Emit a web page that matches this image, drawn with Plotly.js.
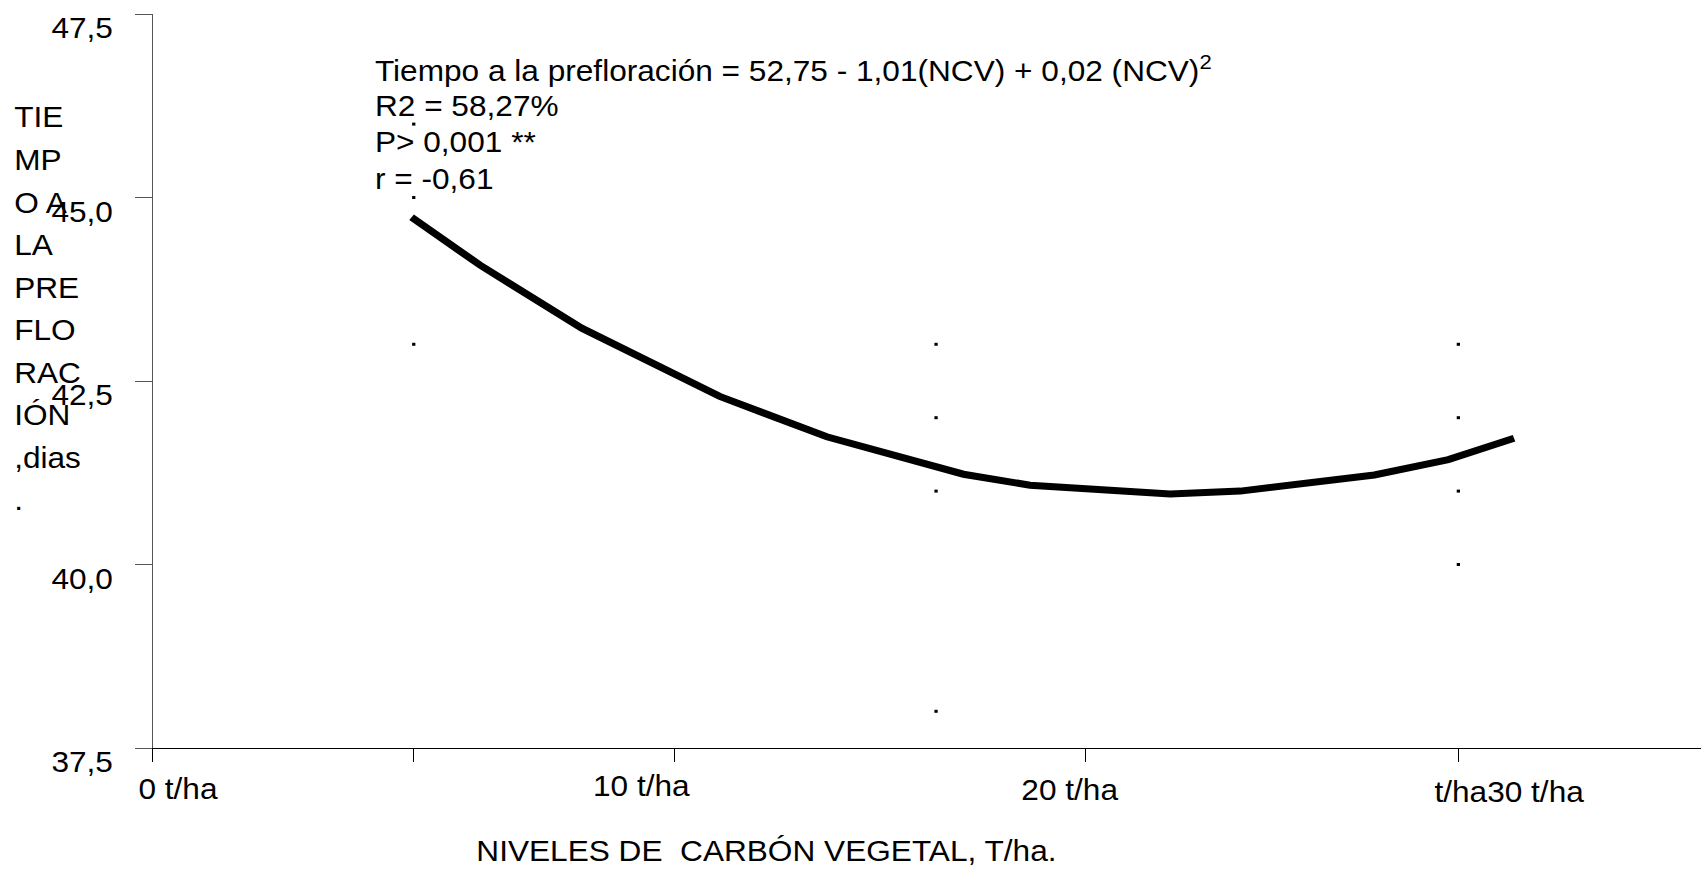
<!DOCTYPE html>
<html>
<head>
<meta charset="utf-8">
<script src="https://cdn.plot.ly/plotly-3.0.1.min.js"></script>
<style>
  html, body { margin: 0; padding: 0; background: #fff; overflow: hidden; }
  #wrap { width: 1701px; height: 869px; overflow: hidden; }
  /* the chart is laid out narrower and widened as a whole, giving the broad lettering */
  #chart { transform-origin: 0 0; }
</style>
</head>
<body>
<div id="wrap"><div id="chart"></div></div>
<script>
// Fitted response: time to pre-flowering (days) vs. charcoal level
const ncvFit = [5.95, 7.52, 9.86, 13.03, 15.49, 18.63, 20.16, 23.38, 24.99, 26.55, 28.07, 29.77, 31.28];
const diasFit = [44.73, 44.08, 43.22, 42.29, 41.74, 41.23, 41.08, 40.96, 41.00, 41.11, 41.22, 41.43, 41.72];

// Observed values (small dots)
const ncvObs = [6, 6, 6, 18, 18, 18, 18, 30, 30, 30, 30];
const diasObs = [46, 45, 43, 43, 42, 41, 38, 43, 42, 41, 40];

// Axis ticks and labels
const yTicks = [37.5, 40, 42.5, 45, 47.5];
const xTicks = [0, 6, 12, 21.43, 30];
const xLabels = ['0 t/ha', '10 t/ha', '20 t/ha', 't/ha30 t/ha'];
const statLines = [
  'Tiempo a la prefloración = 52,75 - 1,01(NCV) + 0,02 (NCV)<sup>2</sup>',
  'R2 = 58,27%',
  'P> 0,001 **',
  'r = -0,61'
];
const yTitleLines = ['TIE', 'MP', 'O A', 'LA', 'PRE', 'FLO', 'RAC', 'IÓN', ',dias', '.'];
const xTitle = 'NIVELES DE  CARBÓN VEGETAL, T/ha.';

const FONT = '"Liberation Sans", Arial, Helvetica, sans-serif';
const FS = 29;
const SX = 1.09;               // horizontal widening of the whole chart

// final page geometry in pixels
const W = 1701, H = 869;
const L = 153, T = 14, B = 121, R = 0;
const PW = W - L - R, PH = H - T - B;
const px = x => (x - L) / PW;          // page x -> paper x
const py = y => (H - B - y) / PH;      // page y -> paper y

const annotations = [];
const txt = (text, x, y, xanchor) => ({
  text: text, xref: 'paper', yref: 'paper',
  x: px(x), y: py(y), xanchor: xanchor, yanchor: 'middle', align: 'left',
  showarrow: false, font: { family: FONT, size: FS, color: '#000' }
});

statLines.forEach((t, i) => annotations.push(txt(t, 373, 69 + 36.5 * i, 'left')));
yTitleLines.forEach((t, i) => annotations.push(txt(t, 12, 117.5 + 42.5 * i, 'left')));

const xLabelX = [179, 642, 1070, 1509];
const xLabelY = [789, 786, 790, 792];
xLabels.forEach((t, i) => annotations.push(txt(t, xLabelX[i], xLabelY[i], 'center')));
annotations.push(txt(xTitle, 766.5, 851, 'center'));

const traces = [
  {
    x: ncvObs, y: diasObs, type: 'scatter', mode: 'markers',
    marker: { symbol: 'square', size: 3, color: '#000', line: { width: 0 } },
    hoverinfo: 'x+y', showlegend: false, cliponaxis: false
  },
  {
    x: ncvFit, y: diasFit, type: 'scatter', mode: 'lines',
    line: { color: '#000', width: 7, shape: 'linear' },
    hoverinfo: 'x+y', showlegend: false, cliponaxis: false
  }
];

const layout = {
  width: W / SX, height: H,
  margin: { l: L / SX, r: R, t: T, b: B, pad: 0 },
  paper_bgcolor: '#fff', plot_bgcolor: '#fff',
  separators: ',.',
  showlegend: false,
  font: { family: FONT, size: FS, color: '#000' },
  xaxis: {
    range: [0, PW / 43.5],
    showgrid: false, zeroline: false,
    showline: true, linecolor: '#000', linewidth: 1,
    tickmode: 'array', tickvals: xTicks,
    ticks: 'outside', ticklen: 13, tickwidth: 1, tickcolor: '#000',
    showticklabels: false, automargin: false, fixedrange: true
  },
  yaxis: {
    range: [37.5, 47.5],
    showgrid: false, zeroline: false,
    showline: true, linecolor: '#555', linewidth: 1,
    tickmode: 'array', tickvals: yTicks, tickformat: '.1f',
    ticks: 'outside', ticklen: 17 / SX, tickwidth: 1, tickcolor: '#555',
    ticklabelshift: 14, ticklabelstandoff: 14,
    tickfont: { family: FONT, size: FS, color: '#000' },
    automargin: false, fixedrange: true
  },
  annotations: annotations
};

const el = document.getElementById('chart');
el.style.transform = 'scaleX(' + SX + ')';
Plotly.newPlot(el, traces, layout, { displayModeBar: false, staticPlot: true });
</script>
</body>
</html>
